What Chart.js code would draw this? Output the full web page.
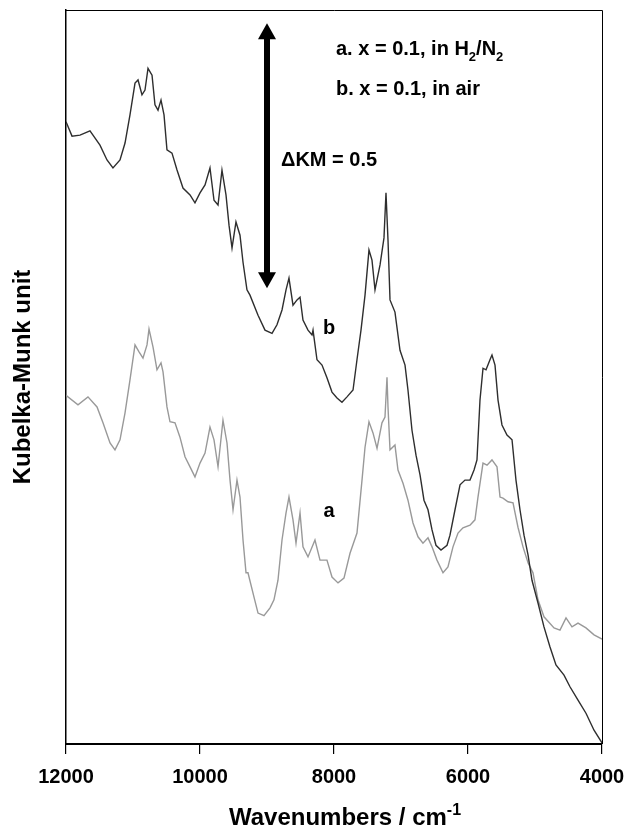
<!DOCTYPE html>
<html lang="en">

<head>
  <meta charset="UTF-8">
  <title>Kubelka-Munk spectra</title>
  <script src="https://cdn.jsdelivr.net/npm/chart.js@4.4.1/dist/chart.umd.min.js"></script>
  <style>
    html, body { margin: 0; padding: 0; background: #fff; }
    #wrap { width: 627px; height: 829px; position: relative; }
  </style>
</head>

<body>
  <div id="wrap"><canvas id="myChart"></canvas></div>

  <script>
    const FONT = '"Liberation Sans", Arial, sans-serif'

    // curve b: x = 0.1, in air (dark)
    const wnB = [12000, 11910, 11791, 11642, 11493, 11388, 11299, 11194, 11119, 11045,
      10970, 10925, 10866, 10821, 10776, 10716, 10672, 10627, 10582, 10537,
      10493, 10418, 10343, 10254, 10149, 10075, 10000, 9925, 9851, 9791,
      9731, 9672, 9612, 9567, 9522, 9463, 9403, 9358, 9299, 9254,
      9134, 9030, 8925, 8851, 8776, 8716, 8672, 8612, 8552, 8507,
      8463, 8388, 8328, 8313, 8254, 8179, 8105, 8030, 7955, 7881,
      7806, 7716, 7657, 7597, 7537, 7478, 7433, 7388, 7313, 7254,
      7224, 7194, 7164, 7090, 7015, 6940, 6896, 6836, 6776, 6716,
      6657, 6597, 6537, 6478, 6403, 6313, 6269, 6194, 6119, 6045,
      5970, 5910, 5866, 5821, 5776, 5731, 5672, 5642, 5597, 5552,
      5493, 5418, 5343, 5284, 5224, 5164, 5104, 5045, 4955, 4866,
      4776, 4687, 4567, 4478, 4358, 4239, 4119, 4000]
    const kmB = [1.174, 1.147, 1.149, 1.157, 1.130, 1.102, 1.087, 1.102, 1.134, 1.187,
      1.247, 1.253, 1.225, 1.234, 1.275, 1.262, 1.206, 1.196, 1.215, 1.187,
      1.121, 1.115, 1.083, 1.049, 1.036, 1.021, 1.040, 1.055, 1.087, 1.026,
      1.017, 1.083, 1.036, 0.979, 0.936, 0.985, 0.960, 0.909, 0.857, 0.847,
      0.809, 0.781, 0.775, 0.791, 0.819, 0.857, 0.879, 0.828, 0.838, 0.843,
      0.800, 0.781, 0.772, 0.781, 0.725, 0.715, 0.691, 0.664, 0.653, 0.645,
      0.655, 0.668, 0.725, 0.781, 0.847, 0.932, 0.913, 0.857, 0.904, 0.955,
      1.040, 0.951, 0.838, 0.815, 0.743, 0.715, 0.668, 0.592, 0.545, 0.508,
      0.460, 0.442, 0.404, 0.375, 0.366, 0.375, 0.394, 0.442, 0.489, 0.498,
      0.498, 0.517, 0.536, 0.649, 0.709, 0.706, 0.725, 0.734, 0.715, 0.649,
      0.602, 0.583, 0.574, 0.498, 0.442, 0.394, 0.357, 0.309, 0.266, 0.221,
      0.183, 0.149, 0.130, 0.108, 0.083, 0.058, 0.026, 0.002]

    // curve a: x = 0.1, in H2/N2 (grey)
    const wnA = [12000, 11821, 11672, 11537, 11448, 11343, 11269, 11194, 11119, 11045,
      10970, 10910, 10851, 10791, 10761, 10701, 10642, 10582, 10552, 10493,
      10448, 10373, 10299, 10224, 10149, 10075, 10000, 9925, 9851, 9791,
      9731, 9657, 9597, 9552, 9507, 9448, 9403, 9358, 9313, 9284,
      9194, 9134, 9045, 8955, 8896, 8836, 8776, 8716, 8672, 8612,
      8567, 8507, 8463, 8388, 8284, 8209, 8105, 8030, 7940, 7851,
      7761, 7657, 7582, 7537, 7478, 7418, 7358, 7284, 7239, 7209,
      7194, 7164, 7090, 7045, 6970, 6896, 6821, 6746, 6672, 6597,
      6537, 6463, 6373, 6299, 6224, 6149, 6075, 5970, 5896, 5851,
      5776, 5716, 5642, 5567, 5522, 5478, 5403, 5328, 5254, 5179,
      5104, 5030, 4955, 4866, 4716, 4627, 4537, 4448, 4358, 4239,
      4119, 4000]
    const kmA = [0.658, 0.640, 0.655, 0.636, 0.606, 0.568, 0.555, 0.574, 0.625, 0.687,
      0.753, 0.740, 0.728, 0.753, 0.783, 0.749, 0.706, 0.719, 0.702, 0.636,
      0.608, 0.606, 0.579, 0.542, 0.523, 0.504, 0.530, 0.549, 0.598, 0.574,
      0.523, 0.611, 0.568, 0.498, 0.442, 0.498, 0.466, 0.385, 0.323, 0.323,
      0.277, 0.247, 0.242, 0.257, 0.272, 0.309, 0.385, 0.436, 0.466, 0.423,
      0.379, 0.436, 0.372, 0.353, 0.385, 0.347, 0.347, 0.315, 0.304, 0.313,
      0.360, 0.398, 0.498, 0.560, 0.608, 0.587, 0.558, 0.606, 0.617, 0.692,
      0.636, 0.555, 0.564, 0.517, 0.492, 0.460, 0.417, 0.391, 0.379, 0.389,
      0.372, 0.347, 0.323, 0.334, 0.372, 0.398, 0.408, 0.413, 0.423, 0.466,
      0.530, 0.526, 0.536, 0.523, 0.466, 0.464, 0.457, 0.455, 0.409, 0.372,
      0.342, 0.323, 0.272, 0.240, 0.219, 0.215, 0.238, 0.221, 0.228, 0.219,
      0.206, 0.198]

    const xTicks = [12000, 10000, 8000, 6000, 4000]

    // scale bar
    const arrowWn = 9000
    const arrowTop = 1.36
    const deltaKM = 0.5

    Chart.defaults.font.family = FONT

    // draws text pieces, some as sub/superscript
    function drawRuns(ctx, x, y, runs, size) {
      for (const [txt, kind] of runs) {
        const s = kind ? Math.round(size * 0.65) : size
        const dy = kind == 'sub' ? size * 0.3 : kind == 'sup' ? -size * 0.42 : 0
        ctx.font = `bold ${s}px ${FONT}`
        ctx.fillText(txt, x, y + dy)
        x += ctx.measureText(txt).width
      }
    }
    function runsWidth(ctx, runs, size) {
      let w = 0
      for (const [txt, kind] of runs) {
        const s = kind ? Math.round(size * 0.65) : size
        ctx.font = `bold ${s}px ${FONT}`
        w += ctx.measureText(txt).width
      }
      return w
    }

    const annot = {
      id: 'annot',
      afterDraw(chart) {
        const { ctx, chartArea: a, scales: { x, y } } = chart
        ctx.save()

        // top and right frame
        ctx.strokeStyle = '#000'
        ctx.lineWidth = 1
        ctx.beginPath()
        ctx.moveTo(a.left, a.top + 0.5)
        ctx.lineTo(a.right + 0.5, a.top + 0.5)
        ctx.lineTo(a.right + 0.5, a.bottom)
        ctx.stroke()

        // double arrow
        const ax = x.getPixelForValue(arrowWn)
        const yt = y.getPixelForValue(arrowTop)
        const yb = y.getPixelForValue(arrowTop - deltaKM)
        const hw = 9, hh = 16
        ctx.fillStyle = '#000'
        ctx.fillRect(ax - 3, yt + hh - 1, 6, yb - yt - 2 * hh + 2)
        ctx.beginPath()
        ctx.moveTo(ax, yt); ctx.lineTo(ax + hw, yt + hh); ctx.lineTo(ax - hw, yt + hh)
        ctx.closePath(); ctx.fill()
        ctx.beginPath()
        ctx.moveTo(ax, yb); ctx.lineTo(ax + hw, yb - hh); ctx.lineTo(ax - hw, yb - hh)
        ctx.closePath(); ctx.fill()

        // labels
        ctx.textAlign = 'left'
        ctx.textBaseline = 'alphabetic'
        drawRuns(ctx, 336, 55, [['a. x = 0.1, in H'], ['2', 'sub'], ['/N'], ['2', 'sub']], 20)
        drawRuns(ctx, 336, 95, [['b. x = 0.1, in air']], 20)
        drawRuns(ctx, 281, 166, [['\u0394KM = 0.5']], 20)
        ctx.textAlign = 'center'
        ctx.font = `bold 20px ${FONT}`
        ctx.fillText('b', 329, 334)
        ctx.fillText('a', 329, 517)

        // x axis title with superscript
        ctx.textAlign = 'left'
        const title = [['Wavenumbers / cm'], ['-1', 'sup']]
        const tw = runsWidth(ctx, title, 24)
        drawRuns(ctx, (a.left + a.right) / 2 + 11 - tw / 2, 825, title, 24)

        ctx.restore()
      }
    }

    const ctx = document.getElementById('myChart')

    new Chart(ctx, {
      type: 'line',
      data: {
        datasets: [{
          label: 'b',
          data: wnB.map((w, i) => ({ x: w, y: kmB[i] })),
          borderColor: '#2e2e2e',
          borderWidth: 1.4,
          pointRadius: 0,
          tension: 0
        },
        {
          label: 'a',
          data: wnA.map((w, i) => ({ x: w, y: kmA[i] })),
          borderColor: '#999999',
          borderWidth: 1.4,
          pointRadius: 0,
          tension: 0
        }]
      },
      options: {
        responsive: true,
        maintainAspectRatio: false,
        animation: false,
        layout: { padding: { top: 10, right: 25, left: 0, bottom: 0 } },
        plugins: {
          legend: { display: false },
          tooltip: { enabled: false }
        },
        scales: {
          x: {
            type: 'linear',
            reverse: true,
            min: 4000,
            max: 12000,
            afterBuildTicks: s => { s.ticks = xTicks.map(v => ({ value: v })) },
            ticks: {
              color: '#000',
              padding: 11,
              maxRotation: 0,
              font: { size: 20, weight: 'bold' },
              callback: v => String(v)
            },
            grid: { display: true, drawOnChartArea: false, drawTicks: true, tickLength: 10, color: '#000', lineWidth: 1.2 },
            border: { display: true, color: '#000', width: 2 },
            afterFit: s => { s.height = 85; s.paddingLeft = 0; s.paddingRight = 0 }
          },
          y: {
            min: 0,
            max: 1.385,
            ticks: { display: false },
            grid: { display: false, drawTicks: false },
            border: { display: true, color: '#000', width: 1.5 },
            title: {
              display: true,
              text: 'Kubelka-Munk unit',
              color: '#000',
              font: { size: 24, weight: 'bold' },
              padding: { top: 9, bottom: 0 }
            },
            afterFit: s => { s.width = 66 }
          }
        }
      },
      plugins: [annot]
    });
  </script>
</body>

</html>
